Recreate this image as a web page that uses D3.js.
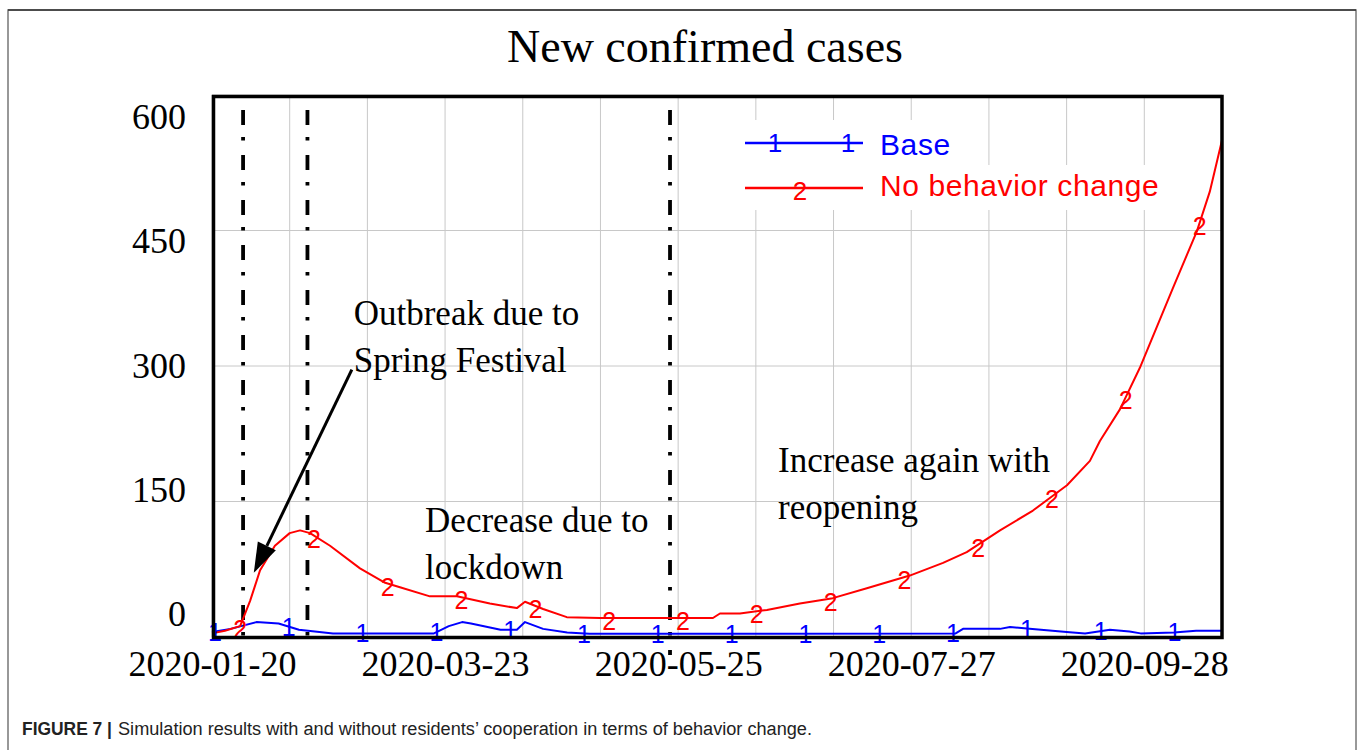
<!DOCTYPE html>
<html>
<head>
<meta charset="utf-8">
<script src="https://cdn.jsdelivr.net/npm/d3@7"></script>
<style>
  html, body { margin: 0; padding: 0; background: #fff; }
  svg { display: block; }
</style>
</head>
<body>
<svg id="chart" width="1357" height="750"></svg>
<script>
// ---------------- DATA ----------------
const chartTitle = "New confirmed cases";
const xTickDays = [0, 63, 126, 189, 252];           // days since 2020-01-20
const xTickLabels = ["2020-01-20", "2020-03-23", "2020-05-25", "2020-07-27", "2020-09-28"];
const yTicks = [0, 150, 300, 450, 600];
const seriesNames = ["Base", "No behavior change"];
const seriesMarks = ["1", "2"];

// Series 1: Base
const baseDays   = [0, 5, 12, 18, 23.5, 32.7, 60, 64, 67.6, 70, 78, 82.4, 84.6, 89.5, 96, 102, 150, 201, 203, 213, 215.7, 221, 231, 236, 242.7, 248, 251, 260, 266, 273];
const baseValues = [5.5, 9, 16.5, 15, 8, 4, 4, 12, 16.5, 15, 8, 8, 16.5, 9, 5, 3.5, 3.5, 4, 9, 9, 11, 9, 5.5, 4, 8, 6, 4, 5, 7, 7];

// Series 2: No behavior change
const noChangeDays   = [0, 3.5, 7.6, 10.3, 13, 17, 21, 23.8, 26.5, 31.9, 40, 46.8, 50.8, 58.9, 66.2, 75.1, 82.4, 84.6, 89.5, 95.9, 104.9, 118.4, 131.9, 135.4, 137.3, 142.7, 150, 158.9, 167.8, 177, 188.6, 197.6, 204, 213, 221.9, 231.1, 237.3, 240, 245.4, 250.8, 259.7, 266.2, 269.7, 273];
const noChangeValues = [4, 7, 12, 40, 74, 101, 115, 118, 115, 101, 76, 60, 55, 45, 45, 37, 32, 39, 31, 22, 21, 21, 21, 21, 26, 26, 30, 37, 43, 54, 68, 82, 94, 118, 140, 168, 195, 217, 252, 298, 386, 449, 493, 550];

// Vertical event lines (days since 2020-01-20)
const eventDays = [8.4, 25.8, 123.8];

// Annotations (anchor = first-line baseline)
const annotations = [
  { lines: ["Outbreak due to", "Spring Festival"], day: 38.3, value: 345 },
  { lines: ["Decrease due to", "lockdown"], day: 57.6, value: 116 },
  { lines: ["Increase again with", "reopening"], day: 153, value: 183 }
];
const arrowFrom = { day: 37.8, value: 296 };
const arrowTo   = { day: 11.3, value: 71 };

const caption = { bold: "FIGURE 7 |", text: "Simulation results with and without residents\u2019 cooperation in terms of behavior change." };

// ---------------- LAYOUT ----------------
const svg = d3.select("#chart");
const plot = { left: 212, right: 1222, top: 95, bottom: 637 };

const x = d3.scaleLinear().domain([0, 273]).range([plot.left, plot.right]);
const y = d3.scaleLinear().domain([0, 600]).range([plot.bottom, plot.top]);
// Vensim prints the value labels at their own spacing
const yLabel = d3.scaleLinear().domain([0, 600]).range([614, 117]);

const serif = "'Liberation Serif', 'Times New Roman', serif";
const sans = "'Liberation Sans', Arial, sans-serif";
const colors = ["#0000ff", "#ff0000"];

// figure border
svg.append("rect").attr("x", 8).attr("y", 10).attr("width", 1348).attr("height", 760)
  .attr("fill", "none").attr("stroke", "#777").attr("stroke-width", 1.5);
svg.append("line").attr("x1", 8).attr("x2", 1356).attr("y1", 10).attr("y2", 10)
  .attr("stroke", "#333").attr("stroke-width", 1.5);

// title
svg.append("text").attr("x", 705).attr("y", 62).attr("text-anchor", "middle")
  .attr("font-family", serif).attr("font-size", 46).attr("fill", "#000").text(chartTitle);

// grid
const gridDays = d3.range(0, 274, 21);
svg.append("g").selectAll("line").data(gridDays).join("line")
  .attr("x1", d => x(d)).attr("x2", d => x(d)).attr("y1", plot.top).attr("y2", plot.bottom)
  .attr("stroke", "#c8c8c8").attr("stroke-width", 1);
svg.append("g").selectAll("line").data(yTicks).join("line")
  .attr("x1", plot.left).attr("x2", plot.right).attr("y1", d => y(d)).attr("y2", d => y(d))
  .attr("stroke", "#c8c8c8").attr("stroke-width", 1);

// annotations text
annotations.forEach(a => {
  a.lines.forEach((ln, i) => {
    svg.append("text").attr("x", x(a.day)).attr("y", y(a.value) + i * 47)
      .attr("font-family", serif).attr("font-size", 35).attr("fill", "#000").text(ln);
  });
});

// event dash-dot lines
eventDays.forEach((d, i) => {
  svg.append("line").attr("x1", x(d)).attr("x2", x(d)).attr("y1", 110).attr("y2", i === 2 ? 655 : 640)
    .attr("stroke", "#000").attr("stroke-width", 3.8).attr("stroke-dasharray", "15,12,3.5,14.5");
});

// series
const line = d3.line().x(d => x(d[0])).y(d => y(d[1]));
const baseData = baseDays.map((d, i) => [d, baseValues[i]]);
const noChangeData = noChangeDays.map((d, i) => [d, noChangeValues[i]]);
const allSeries = [baseData, noChangeData];

allSeries.forEach((data, s) => {
  svg.append("path").datum(data).attr("d", line).attr("fill", "none")
    .attr("stroke", colors[s]).attr("stroke-width", 2).attr("stroke-linejoin", "round");
});

// markers along each line
function interp(data, d) {
  const i = d3.bisector(p => p[0]).right(data, d);
  if (i <= 0) return data[0][1];
  if (i >= data.length) return data[data.length - 1][1];
  const a = data[i - 1], b = data[i];
  return a[1] + (b[1] - a[1]) * (d - a[0]) / (b[0] - a[0]);
}
const markerStart = [0.8, 7.6], markerStep = 19.95;
allSeries.forEach((data, s) => {
  const md = d3.range(markerStart[s], 273, markerStep);
  svg.append("g").selectAll("text").data(md).join("text")
    .attr("x", d => x(d)).attr("y", d => y(interp(data, d)) + (s === 1 ? 3 : 0))
    .attr("dy", "0.36em").attr("text-anchor", "middle")
    .attr("font-family", sans).attr("font-size", 25).attr("fill", colors[s])
    .text(seriesMarks[s]);
});

// frame
svg.append("rect").attr("x", plot.left + 1.5).attr("y", plot.top + 1.5)
  .attr("width", plot.right - plot.left - 1.5).attr("height", plot.bottom - plot.top - 1)
  .attr("fill", "none").attr("stroke", "#000").attr("stroke-width", 3.5);

// arrow
const ax1 = x(arrowFrom.day), ay1 = y(arrowFrom.value), ax2 = x(arrowTo.day), ay2 = y(arrowTo.value);
const ang = Math.atan2(ay2 - ay1, ax2 - ax1);
const hl = 30, hw = 10;
const bx = ax2 - hl * Math.cos(ang), by = ay2 - hl * Math.sin(ang);
svg.append("line").attr("x1", ax1).attr("y1", ay1).attr("x2", bx).attr("y2", by)
  .attr("stroke", "#000").attr("stroke-width", 3);
svg.append("path").attr("d", `M${ax2},${ay2}L${bx + hw * Math.sin(ang)},${by - hw * Math.cos(ang)}L${bx - hw * Math.sin(ang)},${by + hw * Math.cos(ang)}Z`)
  .attr("fill", "#000");

// legend
const legendY = [143, 188];
const legendTextY = [144, 185];
seriesNames.forEach((name, s) => {
  const g = svg.append("g");
  g.append("rect").attr("x", 742).attr("y", legendY[s] - 23).attr("width", s === 0 ? 200 : 422).attr("height", 45).attr("fill", "#fff");
  g.append("line").attr("x1", 745).attr("x2", 863).attr("y1", legendY[s]).attr("y2", legendY[s])
    .attr("stroke", colors[s]).attr("stroke-width", 2.5);
  const mx = s === 0 ? [775, 848] : [800];
  mx.forEach(m => g.append("text").attr("x", m).attr("y", legendY[s] + (s === 1 ? 3 : 0)).attr("dy", "0.36em")
    .attr("text-anchor", "middle").attr("font-family", sans).attr("font-size", 26).attr("fill", colors[s]).text(seriesMarks[s]));
  g.append("text").attr("x", 880).attr("y", legendTextY[s]).attr("dy", "0.36em")
    .attr("font-family", sans).attr("font-size", 30).attr("letter-spacing", 0.6).attr("fill", colors[s]).text(name);
});

// axes labels
const yAxis = svg.append("g").attr("transform", "translate(186,0)")
  .call(d3.axisLeft(yLabel).tickValues(yTicks).tickSize(0).tickPadding(0));
yAxis.select(".domain").remove();
yAxis.selectAll("text").attr("font-family", serif).attr("font-size", 36).attr("fill", "#000");

const xAxis = svg.append("g").attr("transform", "translate(0,650)")
  .call(d3.axisBottom(x).tickValues(xTickDays).tickFormat((d, i) => xTickLabels[i]).tickSize(0).tickPadding(0));
xAxis.select(".domain").remove();
xAxis.selectAll("text").attr("font-family", serif).attr("font-size", 36).attr("fill", "#000");

// caption
svg.append("text").attr("x", 22).attr("y", 735).attr("font-family", sans).attr("font-size", 18)
  .attr("font-weight", "bold").attr("fill", "#222").attr("textLength", 90).attr("lengthAdjust", "spacingAndGlyphs").text(caption.bold);
svg.append("text").attr("x", 118).attr("y", 735).attr("font-family", sans).attr("font-size", 18)
  .attr("fill", "#222").attr("textLength", 694).attr("lengthAdjust", "spacingAndGlyphs").text(caption.text);
</script>
</body>
</html>
